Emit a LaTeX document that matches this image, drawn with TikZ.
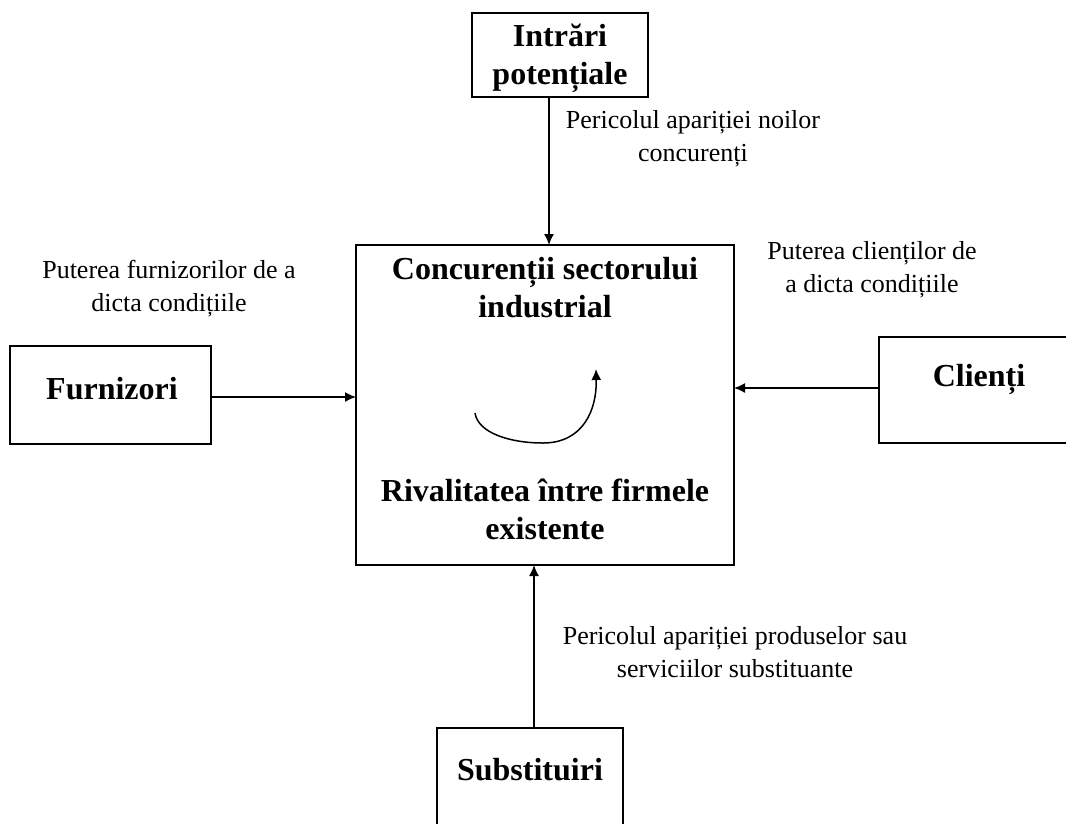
\documentclass[tikz,border=0pt]{standalone}
\usepackage{fontspec}
\setmainfont{Liberation Serif}
\usetikzlibrary{arrows.meta}
\begin{document}
\begin{tikzpicture}[x=1pt,y=-1pt,
  box/.style={draw, line width=1.7pt, rectangle, inner sep=0pt},
  lbl/.style={align=center, font=\fontsize{26}{33}\selectfont, inner sep=0pt},
  blbl/.style={align=center, font=\fontsize{32}{38}\selectfont\bfseries, inner sep=0pt},
  conn/.style={line width=1.5pt, -{Latex[length=11pt,width=10pt]}}]
\useasboundingbox (0,0) rectangle (1066,823);
\clip (0,0) rectangle (1066,823);
% boxes
\node[box, minimum width=176pt, minimum height=84pt] (intr) at (560,55) {};
\node[box, minimum width=378pt, minimum height=320pt] (main) at (545,405) {};
\node[box, minimum width=201pt, minimum height=98pt] (furn) at (110.5,395) {};
\node[box, minimum width=200pt, minimum height=106pt] (cli) at (979,390) {};
\node[box, minimum width=186pt, minimum height=130pt] (subs) at (530,793) {};
% box texts
\node[blbl] (tintr) at (560,58) {Intrări\\potențiale};
\node[blbl] (tfurn) at (112,389) {Furnizori};
\node[blbl] (tcli) at (979,379) {Clienți};
\node[blbl] (tsubs) at (530,770) {Substituiri};
\node[blbl] (tconc) at (545,288) {Concurenții sectorului\\industrial};
\node[blbl] (trival) at (545,509) {Rivalitatea între firmele\\existente};
% labels
\node[lbl] (lintr) at (693,139) {Pericolul apariției noilor\\concurenți};
\node[lbl] (lfurn) at (169,289) {Puterea furnizorilor de a\\dicta condițiile};
\node[lbl] (lcli) at (872,270) {Puterea clienților de\\a dicta condițiile};
\node[lbl] (lsubs) at (735,652) {Pericolul apariției produselor sau\\serviciilor substituante};
% connectors
\coordinate (a1) at (549,97);
\coordinate (a1e) at (549,245);
\draw[conn] (a1) -- (a1e);
\coordinate (a2) at (211,397);
\coordinate (a2e) at (356,397);
\draw[conn] (a2) -- (a2e);
\coordinate (a3) at (879,388);
\coordinate (a3e) at (734,388);
\draw[conn] (a3) -- (a3e);
\coordinate (a4) at (534,728);
\coordinate (a4e) at (534,565);
\draw[conn] (a4) -- (a4e);
% rivalry curve
\coordinate (c0) at (475,413);
\coordinate (c1) at (543,443);
\coordinate (c2) at (596,369);
\draw[conn] (c0) .. controls (478,433) and (510,443) .. (c1) .. controls (583,443) and (597,410) .. (c2);
\end{tikzpicture}
\end{document}
